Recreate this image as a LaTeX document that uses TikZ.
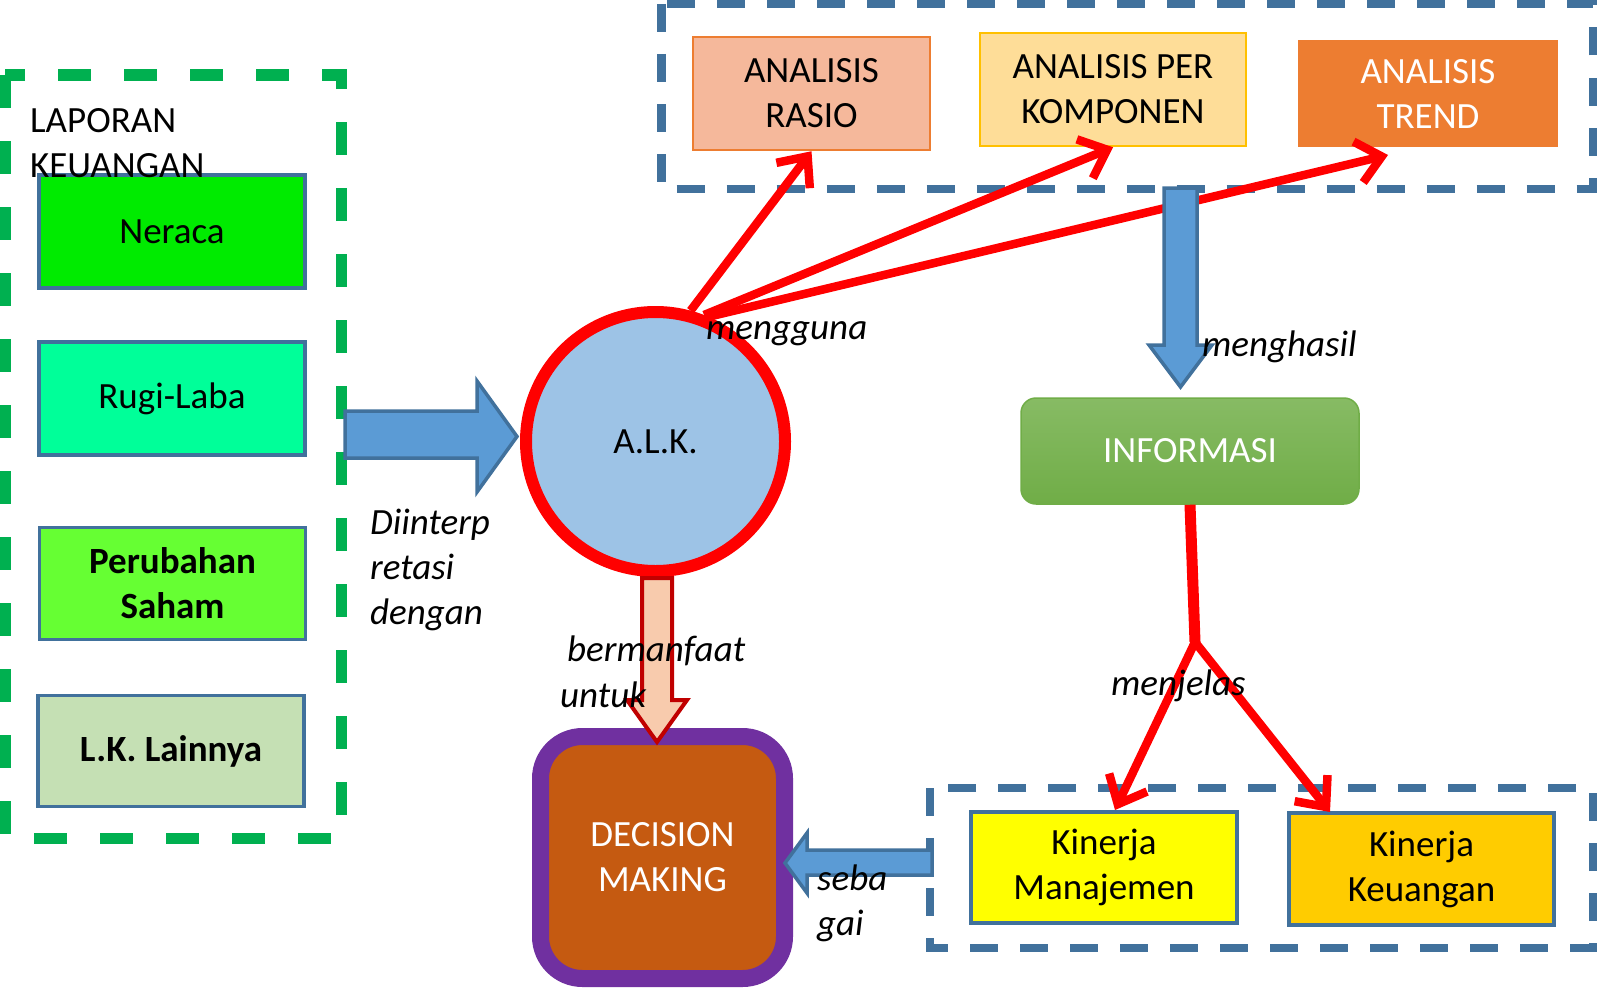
\documentclass[tikz,border=0pt]{standalone}
\usepackage{fontspec}
\setmainfont{Carlito}
\usetikzlibrary{arrows.meta}
\definecolor{boxblue}{HTML}{41719C}
\definecolor{dgreen}{HTML}{00B050}
\definecolor{neraca}{RGB}{0,235,0}
\definecolor{rugi}{HTML}{00FF99}
\definecolor{perub}{HTML}{66FF33}
\definecolor{lain}{HTML}{C5E0B4}
\definecolor{rasio}{HTML}{F5B89B}
\definecolor{rasioline}{HTML}{ED7D31}
\definecolor{kompo}{HTML}{FEDD98}
\definecolor{kompoline}{HTML}{FFC000}
\definecolor{trend}{HTML}{ED7D31}
\definecolor{alkfill}{HTML}{9DC3E6}
\definecolor{arrblue}{HTML}{5B9BD5}
\definecolor{infotop}{HTML}{87BB64}
\definecolor{infobot}{HTML}{70AD47}
\definecolor{kman}{HTML}{FFFF00}
\definecolor{kkeu}{HTML}{FFCC00}
\definecolor{dmpurple}{HTML}{7030A0}
\definecolor{dmorange}{HTML}{C55A11}
\definecolor{peach}{HTML}{F8CBAD}
\definecolor{darkred}{HTML}{C00000}
\newcommand\myfs{\fontsize{37}{45}\selectfont}
\begin{document}
\begin{tikzpicture}[x=1pt,y=-1pt,
  kbox/.style={draw=boxblue, line width=3.5pt, inner sep=0pt, align=center, font=\myfs},
  abox/.style={inner sep=0pt, align=center, font=\myfs},
  plain/.style={anchor=base west, inner sep=0pt, font=\myfs},
  lab/.style={anchor=base west, inner sep=0pt, font=\myfs\itshape},
  redarr/.style={draw=red, line width=8.5pt, -{Straight Barb[length=24pt,width=42pt]}},
  bluedash/.style={draw=boxblue, line width=8.5pt, dash pattern=on 28pt off 22pt},
  greendash/.style={draw=dgreen, line width=11pt, dash pattern=on 33pt off 33pt},
  blockblue/.style={fill=arrblue, draw=boxblue, line width=3.5pt, line join=miter},
  blockpeach/.style={fill=peach, draw=darkred, line width=4pt, line join=miter},
]
\useasboundingbox (0,0) rectangle (1600,990);
\fill[white] (0,0) rectangle (1600,990);

% containers
\draw[greendash] (5,75) rectangle (341,838);
\draw[bluedash] (661.5,4) rectangle (1593,189);
\draw[bluedash] (930,788) rectangle (1593,948);

% left boxes
\node[kbox, fill=neraca, minimum width=266, minimum height=113] (ner) at (172,231.5) {Neraca};
\node[kbox, fill=rugi, minimum width=266, minimum height=113] (rl) at (172,398.5) {Rugi-Laba};
\node[kbox, fill=perub, minimum width=266, minimum height=112, font=\myfs\bfseries] (ps) at (172.5,583.5) {Perubahan\\Saham};
\node[kbox, fill=lain, minimum width=266, minimum height=111, font=\myfs\bfseries] (lk) at (171,751) {L.K. Lainnya};
\node[plain] (lap1) at (30,132) {LAPORAN};
\node[plain] (lap2) at (30,177) {KEUANGAN};

% top boxes
\node[abox, draw=rasioline, line width=2.5pt, fill=rasio, minimum width=237, minimum height=113] (ar) at (811.5,93.5) {ANALISIS\\RASIO};
\node[abox, draw=kompoline, line width=2.5pt, fill=kompo, minimum width=266, minimum height=113] (ak) at (1113,89.5) {ANALISIS PER\\KOMPONEN};
\node[abox, fill=trend, text=white, minimum width=260, minimum height=107] (at) at (1428,93.5) {ANALISIS\\TREND};

% circle
\node[circle, draw=red, line width=12pt, fill=alkfill, minimum size=259, inner sep=0pt, font=\myfs] (alk) at (655.5,441.5) {A.L.K.};

% informasi
\node[abox, rounded corners=15pt, draw=infobot, line width=1.5pt, top color=infotop, bottom color=infobot, text=white, minimum width=338, minimum height=106] (info) at (1190,451) {INFORMASI};

% kinerja
\node[kbox, fill=kman, minimum width=266, minimum height=111] (km) at (1104,867.5) {Kinerja\\Manajemen};
\node[kbox, fill=kkeu, minimum width=265, minimum height=112] (kk) at (1421.5,869) {Kinerja\\Keuangan};

% decision making
\node[abox, draw=dmpurple, line width=17pt, fill=dmorange, rounded corners=42pt, text=white, minimum width=244, minimum height=242] (dm) at (662.5,857.5) {DECISION\\MAKING};

% red arrows from A.L.K.
\coordinate (atin) at (1388,155);
\draw[redarr] (alk.75) -- (ar.south);
\draw[redarr] (alk.69) -- (ak.south);
\draw[redarr] (alk.67) -- (atin);

% block arrows
\draw[blockblue] (345,411) -- (477,411) -- (477,381) -- (517,436.5) -- (477,492) -- (477,458) -- (345,458) -- cycle;
\draw[blockblue] (1164,188) -- (1197,188) -- (1197,345) -- (1212,345) -- (1180.5,387) -- (1149,345) -- (1164,345) -- cycle;
\draw[blockblue] (932,850) -- (807,850) -- (807,833) -- (785,863) -- (807,893) -- (807,875) -- (932,875) -- cycle;
\draw[blockpeach] (642,578) -- (672,578) -- (672,700) -- (687,700) -- (657,742) -- (627,700) -- (642,700) -- cycle;

% informasi to kinerja
\coordinate (split) at (1195,642);
\coordinate (kmin) at (1115,810);
\coordinate (kkin) at (1330,812);
\draw[red, line width=11pt] (info.south) -- (split);
\draw[redarr] (split) -- (kmin);
\draw[redarr] (split) -- (kkin);

% labels
\node[lab] (mg) at (706,339) {mengguna};
\node[lab] (mh) at (1202,356) {menghasil};
\node[lab] (d1) at (370,534) {Diinterp};
\node[lab] (d2) at (370,579) {retasi};
\node[lab] (d3) at (370,624) {dengan};
\node[lab] (bm) at (567,661) {bermanfaat};
\node[lab] (un) at (560,707) {untuk};
\node[lab] (mj) at (1111,695) {menjelas};
\node[lab] (sb) at (817,890) {seba};
\node[lab] (ga) at (817,935) {gai};
\end{tikzpicture}
\end{document}
